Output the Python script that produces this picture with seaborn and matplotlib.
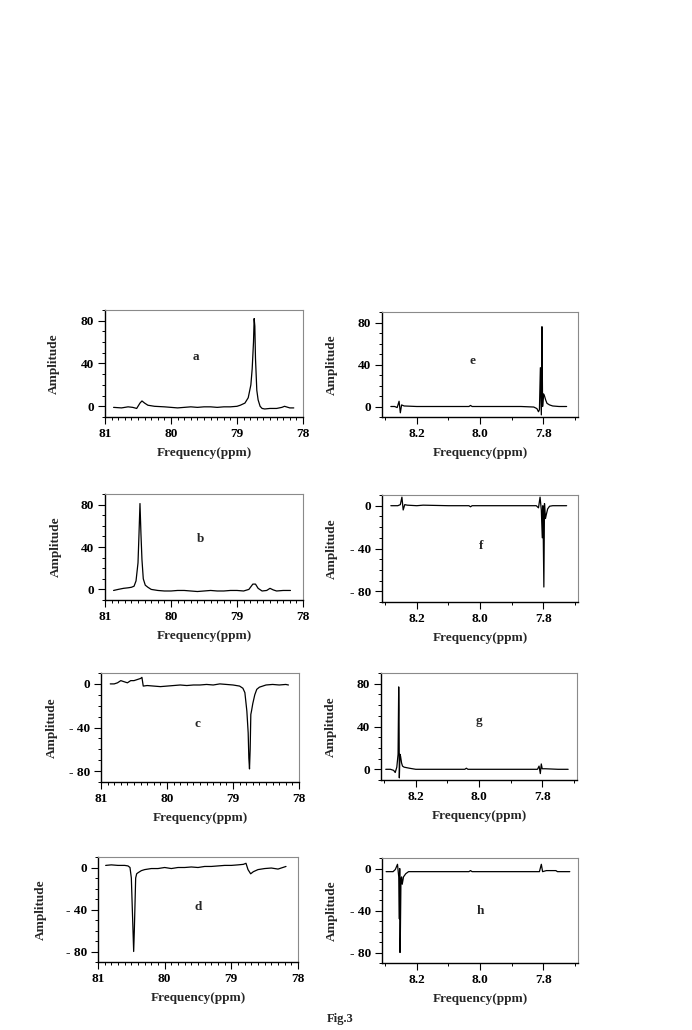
import numpy as np
import pandas as pd
import seaborn as sns
import matplotlib.pyplot as plt
from matplotlib.ticker import MultipleLocator

# spectra (ppm, amplitude)
ppm_a = [80.87, 80.75, 80.65, 80.58, 80.52, 80.47, 80.44, 80.40, 80.35, 80.25, 80.1, 80.0, 79.9, 79.8, 79.7,
         79.6, 79.5, 79.4, 79.3, 79.2, 79.1, 79.0, 78.95, 78.88, 78.83, 78.79, 78.77, 78.75, 78.74, 78.73,
         78.72, 78.71, 78.70, 78.68, 78.65, 78.62, 78.58, 78.5, 78.4, 78.32, 78.28, 78.2, 78.14]
amp_a = [-1, -1.5, -0.5, -1, -2, 3, 5, 3, 1, 0, -0.5, -1, -1.5, -1, -0.5,
         -1, -0.5, -0.5, -1, -0.5, -0.5, 0, 1, 3, 8, 20, 35, 60, 82, 75,
         45, 30, 15, 6, 0, -2, -2.5, -2, -2, -1, 0, -1.5, -1.5]

ppm_b = [80.87, 80.8, 80.72, 80.65, 80.6, 80.56, 80.53, 80.5, 80.485, 80.47, 80.455, 80.44, 80.42, 80.39,
         80.35, 80.3, 80.2, 80.1, 80.0, 79.9, 79.8, 79.7, 79.6, 79.5, 79.4, 79.3, 79.2, 79.1, 79.0, 78.9,
         78.82, 78.76, 78.72, 78.68, 78.62, 78.55, 78.5, 78.45, 78.4, 78.3, 78.19]
amp_b = [-1, 0, 1, 1.5, 2, 3, 8, 25, 52, 81, 52, 28, 10, 4,
         2, 0, -1, -1.5, -1.5, -1, -1, -1.5, -2, -1.5, -1, -1.5, -1.5, -1, -1, -1.5,
         0, 5, 5, 1, -1.5, -1, 1, -0.5, -1.5, -1, -1]

ppm_c = [80.86, 80.8, 80.75, 80.7, 80.65, 80.6, 80.55, 80.5, 80.45, 80.4, 80.38, 80.36, 80.3, 80.2, 80.1,
         80.0, 79.9, 79.8, 79.7, 79.6, 79.5, 79.4, 79.3, 79.2, 79.1, 79.0, 78.95, 78.9, 78.85, 78.82,
         78.79, 78.77, 78.76, 78.75, 78.74, 78.73, 78.72, 78.70, 78.67, 78.64, 78.6, 78.55, 78.5, 78.4,
         78.3, 78.2, 78.16]
amp_c = [0, 0, 1, 3, 2, 1, 3, 3, 4, 5, 6, -2, -1.5, -2, -2.5,
         -2, -1.5, -1, -1.5, -1, -1, -0.5, -1, 0, -0.5, -1, -1.5, -2, -4, -8,
         -25, -45, -68, -78, -60, -28, -25, -18, -10, -5, -3, -2, -1, -0.5,
         -1, -0.5, -1]

ppm_d = [80.885, 80.8, 80.7, 80.6, 80.55, 80.52, 80.50, 80.485, 80.475, 80.465, 80.455, 80.445, 80.435,
         80.42, 80.4, 80.35, 80.3, 80.2, 80.1, 80.0, 79.9, 79.8, 79.7, 79.6, 79.5, 79.4, 79.3, 79.2, 79.1,
         79.0, 78.9, 78.82, 78.78, 78.75, 78.71, 78.67, 78.6, 78.5, 78.4, 78.3, 78.18]
amp_d = [2, 2.5, 2, 2, 1.5, 0, -10, -40, -60, -80, -60, -35, -10,
         -6, -5, -3, -2, -1, -1, 0, -1, 0, 0, 0.5, 0, 1, 1, 1.5, 2,
         2, 2.5, 3, 4, -2, -6, -4, -2, -1, -0.5, -1.5, 1]

ppm_e = [8.282, 8.27, 8.262, 8.256, 8.252, 8.248, 8.24, 8.2, 8.1, 8.035, 8.03, 8.025, 7.95, 7.87, 7.83,
         7.82, 7.815, 7.812, 7.809, 7.806, 7.804, 7.802, 7.799, 7.796, 7.792, 7.788, 7.78, 7.77, 7.75, 7.726]
amp_e = [0, 0, -1, 5, -6, 1.5, 0.5, 0, 0, 0, 1, 0, 0, 0, -0.5,
         -2, -5, -3, 37, -8, 76, 0, 12, 10, 6, 3, 1.5, 0.5, 0, 0]

ppm_f = [8.282, 8.26, 8.252, 8.247, 8.243, 8.238, 8.23, 8.2, 8.18, 8.1, 8.035, 8.03, 8.025, 7.95, 7.85,
         7.822, 7.815, 7.81, 7.806, 7.803, 7.801, 7.798, 7.796, 7.793, 7.79, 7.786, 7.78, 7.77, 7.75, 7.726]
amp_f = [0, 0, 1, 8, -4, 1, 0.5, 0, 0.5, 0, 0, -1, 0, 0, 0,
         0, -2, 8, -4, -30, 0, -76, 2, -12, -8, -3, -0.5, 0, 0, 0]

ppm_g = [8.295, 8.28, 8.27, 8.265, 8.26, 8.256, 8.254, 8.253, 8.252, 8.25, 8.248, 8.245, 8.242, 8.237, 8.22,
         8.2, 8.1, 8.045, 8.04, 8.035, 7.95, 7.85, 7.815, 7.81, 7.806, 7.803, 7.8, 7.79, 7.75, 7.718]
amp_g = [0, 0, -1, -3, 2, 14, 77, 55, -8, 14, 12, 6, 3, 2, 1,
         0, 0, 0, 1, 0, 0, 0, 0, 3, -4, 5, 0.5, 0.5, 0, 0]

ppm_h = [8.297, 8.275, 8.268, 8.261, 8.257, 8.255, 8.254, 8.253, 8.252, 8.25, 8.248, 8.246, 8.242, 8.235,
         8.226, 8.1, 8.035, 8.03, 8.025, 7.9, 7.812, 7.806, 7.802, 7.79, 7.76, 7.755, 7.716]
amp_h = [-3, -3, -1, 4, -8, -48, 0, -80, -65, -10, -8, -15, -8, -5,
         -3, -3, -3, -2, -3, -3, -3, 4, -3, -2, -2, -3, -3]

wide_xticks = [81, 80, 79, 78]
wide_xlabels = ["81", "80", "79", "78"]
narrow_xticks = [8.2, 8.0, 7.8]
narrow_xlabels = ["8.2", "8.0", "7.8"]
pos_yticks = [0, 40, 80]
pos_ylabels = ["0", "40", "80"]
neg_yticks = [-80, -40, 0]
neg_ylabels = ["- 80", "- 40", "0"]

sns.set_theme(style="ticks")
plt.rcParams["font.family"] = ["Liberation Serif", "DejaVu Serif"]
plt.rcParams["font.weight"] = "bold"

W, H = 692, 1030
fig = plt.figure(figsize=(W / 100, H / 100), dpi=100)


def box(l, r, t, b):
    return [l / W, 1 - b / H, (r - l) / W, (b - t) / H]


# letter, ppm, amp, wide x?, positive y?, pixel box, letter position, ylabel x
panels = [
    ("a", ppm_a, amp_a, True, True, box(105, 303, 310, 417), (0.46, 0.56), -0.23),
    ("b", ppm_b, amp_b, True, True, box(105, 303, 494, 600), (0.48, 0.575), -0.22),
    ("c", ppm_c, amp_c, True, False, box(101, 299, 673, 782), (0.485, 0.53), -0.22),
    ("d", ppm_d, amp_d, True, False, box(98, 298, 857, 962), (0.5, 0.52), -0.255),
    ("e", ppm_e, amp_e, False, True, box(382, 578, 312, 417), (0.464, 0.53), -0.225),
    ("f", ppm_f, amp_f, False, False, box(382, 578, 495, 602), (0.505, 0.52), -0.225),
    ("g", ppm_g, amp_g, False, True, box(381, 577, 673, 780), (0.5, 0.55), -0.225),
    ("h", ppm_h, amp_h, False, False, box(382, 578, 858, 963), (0.5, 0.495), -0.225),
]

for letter, ppm, amp, wide, pos, rect, lpos, ylx in panels:
    ax = fig.add_axes(rect)
    df = pd.DataFrame({"ppm": ppm, "amp": amp})
    sns.lineplot(data=df, x="ppm", y="amp", ax=ax, color="black", lw=0.9,
                 sort=False, estimator=None)
    if wide:
        ax.set_xlim(81, 78)
        ax.set_xticks(wide_xticks)
        ax.set_xticklabels(wide_xlabels)
    else:
        ax.set_xlim(8.31, 7.69)
        ax.set_xticks(narrow_xticks)
        ax.set_xticklabels(narrow_xlabels)
    ax.xaxis.set_minor_locator(MultipleLocator(0.1))
    if pos:
        ax.set_ylim(-10, 90)
        ax.set_yticks(pos_yticks)
        ax.set_yticklabels(pos_ylabels)
    else:
        ax.set_ylim(-90, 10)
        ax.set_yticks(neg_yticks)
        ax.set_yticklabels(neg_ylabels)
    ax.yaxis.set_minor_locator(MultipleLocator(10))
    ax.tick_params(which="major", direction="out", length=5, width=0.8, colors="black",
                   labelsize=9.5, pad=3)
    ax.tick_params(which="minor", direction="out", length=2.5, width=0.7, colors="black")
    for lab in ax.get_xticklabels() + ax.get_yticklabels():
        lab.set_fontweight("bold")
    for side in ["left", "bottom"]:
        ax.spines[side].set_color("black")
        ax.spines[side].set_linewidth(1.0)
    for side in ["top", "right"]:
        ax.spines[side].set_visible(True)
        ax.spines[side].set_color("#8a8a8a")
        ax.spines[side].set_linewidth(0.8)
    ax.set_xlabel("Frequency(ppm)", fontsize=9.5, fontweight="bold", labelpad=5)
    ax.set_ylabel("Amplitude", fontsize=9.5, fontweight="bold")
    ax.yaxis.set_label_coords(ylx, 0.5)
    ax.text(lpos[0], lpos[1], letter, transform=ax.transAxes, fontsize=9.5,
            fontweight="bold", ha="center", va="center")

fig.text(340 / W, 1 - 1019 / H, "Fig.3", fontsize=9, fontweight="bold", ha="center", va="center")

fig.savefig("out.png", dpi=100)
